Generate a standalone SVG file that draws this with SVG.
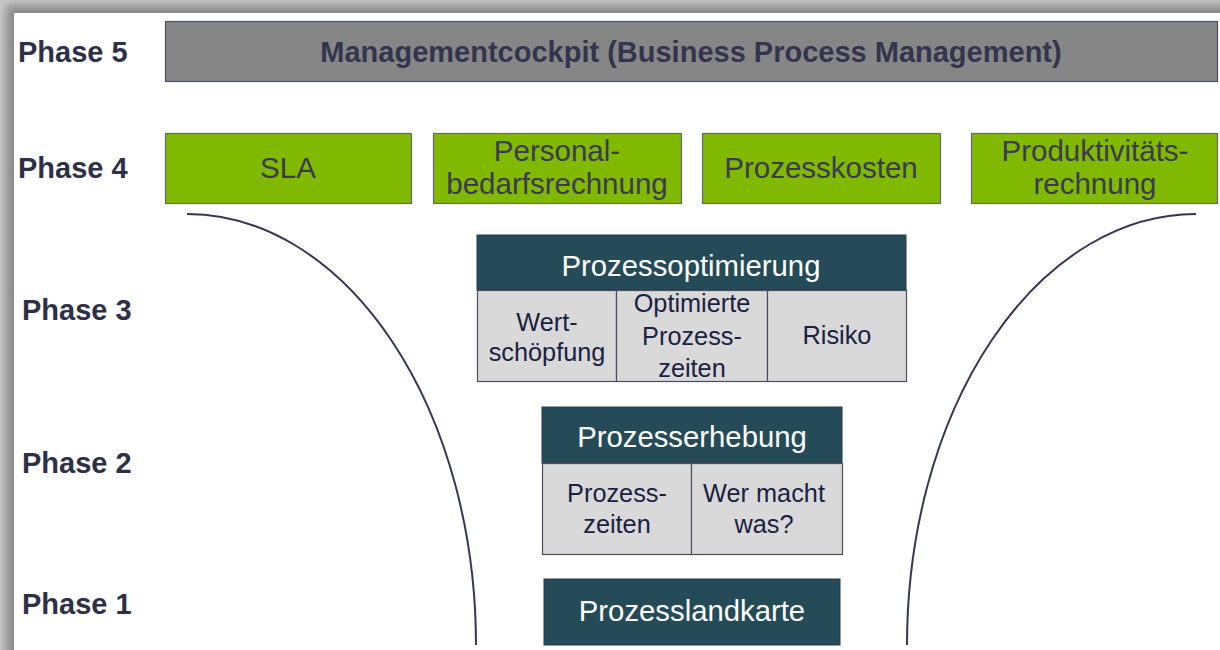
<svg xmlns="http://www.w3.org/2000/svg" width="1220" height="650" viewBox="0 0 1220 650">
  <defs>
    <filter id="pageShadow" x="-5%" y="-5%" width="110%" height="110%">
      <feGaussianBlur stdDeviation="5"/>
    </filter>
    <style>
      .phase { font-family: "Liberation Sans", Arial, sans-serif; font-weight: bold; font-size: 29px; fill: #2e3048; }
      .mgmt { font-family: "Liberation Sans", Arial, sans-serif; font-weight: bold; font-size: 29px; fill: #33354e; text-anchor: middle; }
      .green rect { fill: #80b900; stroke: #63657a; stroke-width: 1.2; }
      .green text { font-family: "Liberation Sans", Arial, sans-serif; font-size: 29.5px; fill: #3a3a52; text-anchor: middle; }
      .head { fill: #254b59; stroke: #2a3b48; stroke-width: 1; }
      .headText { font-family: "Liberation Sans", Arial, sans-serif; font-size: 29.3px; fill: #ffffff; text-anchor: middle; }
      .cell { fill: #d9d9d9; stroke: #4c4e60; stroke-width: 1.2; }
      .cellText { font-family: "Liberation Sans", Arial, sans-serif; font-size: 25.3px; fill: #1b2142; text-anchor: middle; }
      .curve { fill: none; stroke: #363850; stroke-width: 2; }
    </style>
  </defs>

  <!-- page with soft drop shadow on the top and left -->
  <rect x="0" y="0" width="1220" height="650" fill="#c9c9c9"/>
  <rect x="6" y="5" width="1260" height="700" fill="#8a8a8a" filter="url(#pageShadow)"/>
  <rect x="14" y="13" width="1220" height="650" fill="#ffffff"/>

  <!-- phase labels -->
  <g id="phase-labels">
    <text class="phase" x="18" y="62">Phase 5</text>
    <text class="phase" x="18" y="178">Phase 4</text>
    <text class="phase" x="22" y="320">Phase 3</text>
    <text class="phase" x="22" y="473">Phase 2</text>
    <text class="phase" x="22" y="614">Phase 1</text>
  </g>

  <!-- funnel outline -->
  <g id="connectors">
    <path class="curve" d="M187,214 A289,431 0 0 1 476,645"/>
    <path class="curve" d="M1196,214 A289,431 0 0 0 907,645"/>
  </g>

  <!-- phase 5 -->
  <g id="management-cockpit">
    <rect x="165.5" y="21.5" width="1052" height="60" fill="#868686" stroke="#4e4f62" stroke-width="1.2"/>
    <text class="mgmt" x="691" y="62">Managementcockpit (Business Process Management)</text>
  </g>

  <!-- phase 4 -->
  <g id="sla" class="green">
    <rect x="165.5" y="133.5" width="246" height="70"/>
    <text x="288" y="178">SLA</text>
  </g>
  <g id="personalbedarf" class="green">
    <rect x="433.5" y="133.5" width="248" height="70"/>
    <text x="557" y="161">Personal-</text>
    <text x="557" y="194">bedarfsrechnung</text>
  </g>
  <g id="prozesskosten" class="green">
    <rect x="702.5" y="133.5" width="238" height="70"/>
    <text x="821" y="178">Prozesskosten</text>
  </g>
  <g id="produktivitaet" class="green">
    <rect x="971.5" y="133.5" width="246" height="70"/>
    <text x="1095" y="161">Produktivitäts-</text>
    <text x="1095" y="194">rechnung</text>
  </g>

  <!-- phase 3 -->
  <g id="prozessoptimierung">
    <rect class="head" x="477" y="235" width="429" height="55"/>
    <text class="headText" x="691" y="276">Prozessoptimierung</text>
    <rect class="cell" x="477.5" y="290.5" width="139" height="91"/>
    <rect class="cell" x="616.5" y="290.5" width="151" height="91"/>
    <rect class="cell" x="767.5" y="290.5" width="139" height="91"/>
    <text class="cellText" x="547" y="331">Wert-</text>
    <text class="cellText" x="547" y="361">schöpfung</text>
    <text class="cellText" x="692" y="312">Optimierte</text>
    <text class="cellText" x="692" y="345">Prozess-</text>
    <text class="cellText" x="692" y="377">zeiten</text>
    <text class="cellText" x="837" y="344">Risiko</text>
  </g>

  <!-- phase 2 -->
  <g id="prozesserhebung">
    <rect class="head" x="542" y="407" width="300" height="56"/>
    <text class="headText" x="692" y="447">Prozesserhebung</text>
    <rect class="cell" x="542.5" y="463.5" width="149" height="91"/>
    <rect class="cell" x="691.5" y="463.5" width="151" height="91"/>
    <text class="cellText" x="617" y="502">Prozess-</text>
    <text class="cellText" x="617" y="533">zeiten</text>
    <text class="cellText" x="764" y="502">Wer macht</text>
    <text class="cellText" x="764" y="533">was?</text>
  </g>

  <!-- phase 1 -->
  <g id="prozesslandkarte">
    <rect class="head" x="544" y="579" width="296" height="66"/>
    <text class="headText" x="692" y="621">Prozesslandkarte</text>
  </g>
</svg>
